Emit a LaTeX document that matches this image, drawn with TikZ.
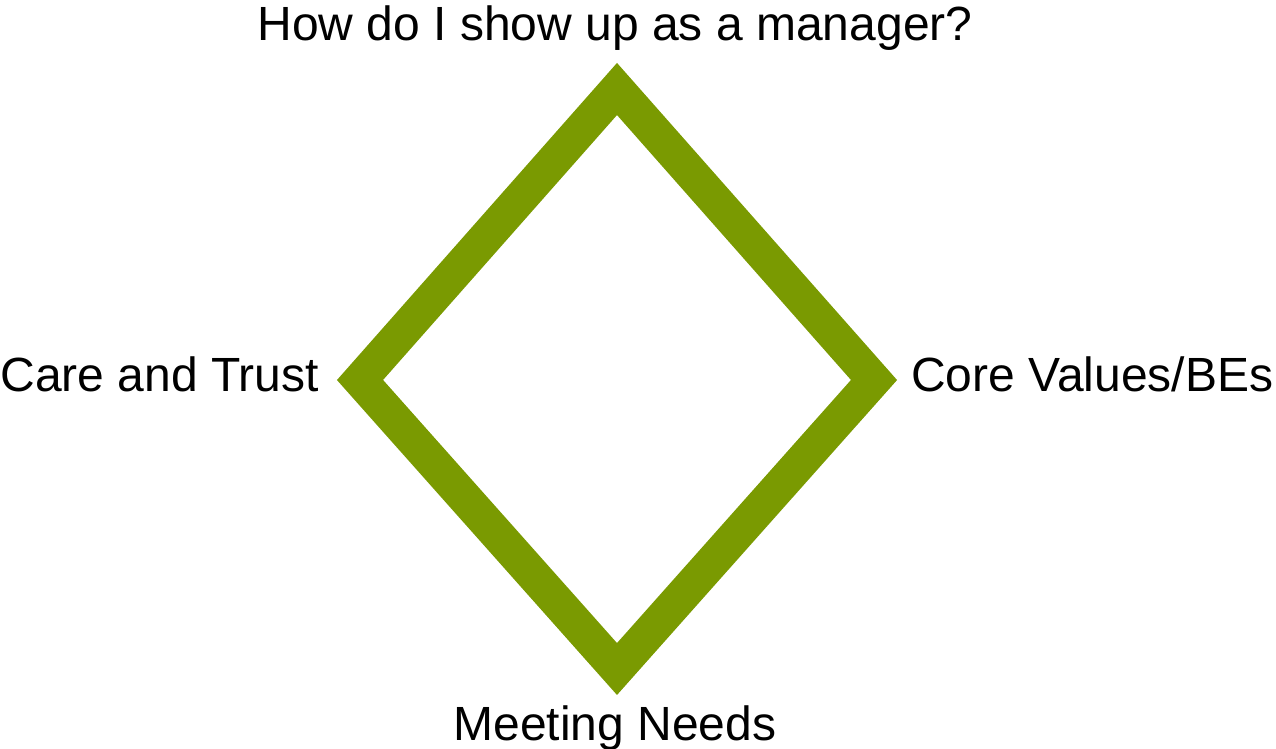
\documentclass[tikz,border=0pt]{standalone}
\usepackage{fontspec}
\setmainfont{Liberation Sans}
\definecolor{olivebar}{RGB}{122,154,1}

\begin{document}
\begin{tikzpicture}[x=1pt,y=-1pt,every node/.style={font=\fontsize{48}{57}\selectfont,inner sep=0pt}]
\useasboundingbox (0,0) rectangle (1276,749);
\coordinate (top) at (617,89);\coordinate (right) at (874,380);
\coordinate (bottom) at (617,669);\coordinate (left) at (360,380);
\draw[olivebar,line width=34.5pt,line join=miter,miter limit=10] (top)--(right)--(bottom)--(left)--cycle;
\node[anchor=base] (ttl) at (615,41) {How do I show up as a manager?};
\node[anchor=base east] (care) at (319,391) {Care and Trust};
\node[anchor=base west] (core) at (911,391) {Core Values/BEs};
\node[anchor=base] (needs) at (615,740) {Meeting Needs};
\end{tikzpicture}
\end{document}
